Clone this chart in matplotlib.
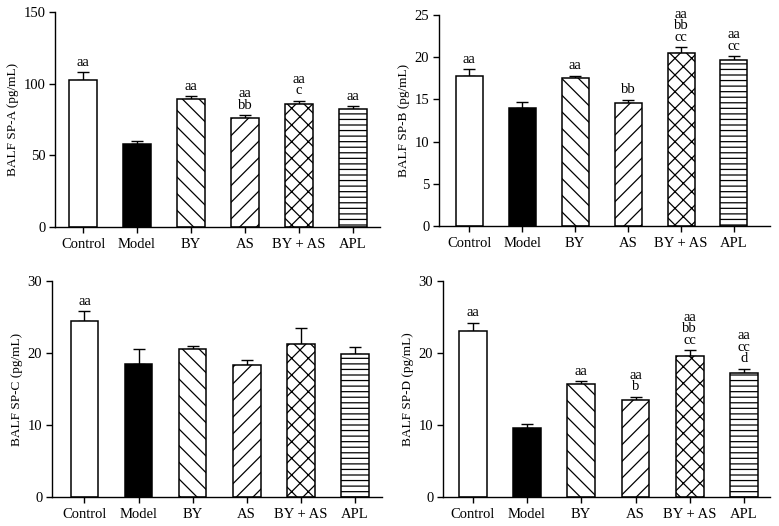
import matplotlib
matplotlib.use("Agg")
import matplotlib.pyplot as plt
import numpy as np

plt.rcParams['font.family'] = ['Liberation Serif', 'DejaVu Serif']
plt.rcParams['hatch.linewidth'] = 0.9

groups = ["Control", "Model", "BY", "AS", "BY + AS", "APL"]

spa_mean = [102.3, 58.1, 89.3, 76.0, 85.8, 82.1]
spa_err = [5.6, 1.7, 1.9, 1.9, 2.3, 2.1]
spa_sig = ["aa", "", "aa", "aa\nbb", "aa\nc", "aa"]

spb_mean = [17.77, 13.98, 17.5, 14.57, 20.54, 19.63]
spb_err = [0.79, 0.67, 0.3, 0.4, 0.63, 0.47]
spb_sig = ["aa", "", "aa", "bb", "aa\nbb\ncc", "aa\ncc"]

spc_mean = [24.5, 18.5, 20.6, 18.27, 21.3, 19.9]
spc_err = [1.3, 2.0, 0.35, 0.73, 2.2, 1.0]
spc_sig = ["aa", "", "", "", "", ""]

spd_mean = [23.1, 9.55, 15.7, 13.5, 19.65, 17.25]
spd_err = [1.1, 0.6, 0.4, 0.4, 0.75, 0.55]
spd_sig = ["aa", "", "aa", "aa\nb", "aa\nbb\ncc", "aa\ncc\nd"]

faces = ["white", "black", "white", "white", "white", "white"]
hatches = [None, None, "\\\\", "//", "xx", "---"]

W, H = 779, 526
fig = plt.figure(figsize=(W / 100, H / 100), dpi=100)

panels = [
    (spa_mean, spa_err, spa_sig, "BALF SP-A (pg/mL)", 150, 50, (55, 380, 227, 12), (-0.52, 5.5)),
    (spb_mean, spb_err, spb_sig, "BALF SP-B (pg/mL)", 25, 5, (439, 770, 226, 15), (-0.57, 5.68)),
    (spc_mean, spc_err, spc_sig, "BALF SP-C (pg/mL)", 30, 10, (52, 382, 497, 281), (-0.6, 5.5)),
    (spd_mean, spd_err, spd_sig, "BALF SP-D (pg/mL)", 30, 10, (443, 770, 497, 281), (-0.55, 5.48)),
]

for mean, err, sig, ylabel, ymax, step, (l, r, b, t), xl in panels:
    ax = fig.add_axes([l / W, 1 - b / H, (r - l) / W, (b - t) / H])
    x = np.arange(len(groups))
    ax.errorbar(x, mean, yerr=[np.zeros(len(err)), err], fmt="none",
                ecolor="black", elinewidth=1.0, capsize=4.5, capthick=1.0, zorder=1)
    for i in range(len(groups)):
        ax.bar(x[i], mean[i], width=0.51, color=faces[i], edgecolor="black",
               hatch=hatches[i], linewidth=1.1, zorder=2)
    for i, s in enumerate(sig):
        if s:
            ax.annotate(s, (x[i], mean[i] + err[i]), xytext=(0, 2.5),
                        textcoords="offset points", ha="center", va="bottom",
                        fontsize=10.5, linespacing=0.85, annotation_clip=False)
    ax.set_xlim(*xl)
    ax.set_ylim(0, ymax)
    ax.set_yticks(np.arange(0, ymax + 0.001, step))
    ax.set_xticks(x)
    ax.set_xticklabels(groups, fontsize=10.5)
    ax.tick_params(axis="y", labelsize=10.5, length=4, width=1.0, direction="out", pad=3)
    ax.tick_params(axis="x", length=4, width=1.0, direction="out", pad=4)
    ax.set_ylabel(ylabel, fontsize=9.5, labelpad=3)
    for sp in ["top", "right"]:
        ax.spines[sp].set_visible(False)
    for sp in ["left", "bottom"]:
        ax.spines[sp].set_linewidth(1.0)

fig.savefig("out.png", dpi=100)
